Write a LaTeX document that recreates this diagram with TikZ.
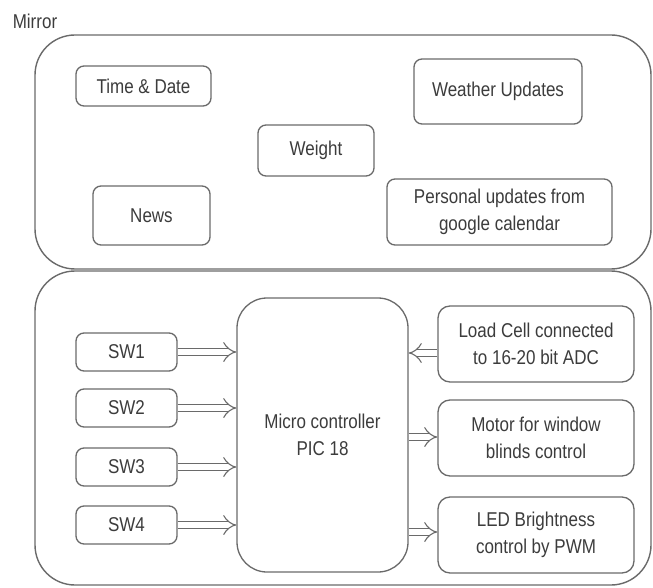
\documentclass[tikz,border=0pt]{standalone}
\usepackage{fontspec}
\setmainfont{Liberation Sans}[FakeStretch=0.85]
\usetikzlibrary{arrows.meta,calc}
\definecolor{ln}{HTML}{6A6A6A}
\definecolor{tx}{HTML}{3C3C3C}
\begin{document}
\begin{tikzpicture}[x=1pt,y=-1pt,
  every node/.style={font=\fontsize{20}{27}\selectfont, text=tx, align=center, inner sep=0pt},
  box/.style={draw=ln, line width=1.3pt, rounded corners=8pt, rectangle},
  cont/.style={draw=ln, line width=1.4pt, rounded corners=40pt, rectangle},
  dbl/.style={draw=ln, line width=1.1pt, double=white, double distance=6pt, -{Implies[length=6pt]}}
]
\useasboundingbox (0,0) rectangle (653,588);
\fill[white] (0,0) rectangle (653,588);
% containers
\node[cont, minimum width=616pt, minimum height=234pt] (top) at (343,152) {};
\node[cont, minimum width=616pt, minimum height=314pt] (bot) at (343,428) {};
\node (mirror) at (35,21) {Mirror};
% mirror contents
\node[box, minimum width=135pt, minimum height=40pt] (time) at (143.5,86) {Time \& Date};
\node[box, minimum width=168pt, minimum height=65pt] (weather) at (498,91.5) {Weather Updates};
\node[box, minimum width=116pt, minimum height=51pt] (weight) at (316,150.5) {Weight};
\node[box, minimum width=117pt, minimum height=59pt] (news) at (151.5,215.5) {News};
\node[box, minimum width=225pt, minimum height=66pt] (personal) at (499.5,212) {Personal updates from\\google calendar};
% controller part
\node[box, rounded corners=30pt, minimum width=171pt, minimum height=274pt] (mc) at (322.5,435) {Micro controller\\PIC 18};
\node[box, minimum width=101pt, minimum height=38pt] (sw1) at (126.5,352) {SW1};
\node[box, minimum width=101pt, minimum height=38pt] (sw2) at (126.5,408) {SW2};
\node[box, minimum width=101pt, minimum height=38pt] (sw3) at (126.5,467) {SW3};
\node[box, minimum width=101pt, minimum height=38pt] (sw4) at (126.5,525) {SW4};
\node[box, rounded corners=12pt, minimum width=196pt, minimum height=76pt] (load) at (536,344) {Load Cell connected\\to 16-20 bit ADC};
\node[box, rounded corners=12pt, minimum width=196pt, minimum height=76pt] (motor) at (536,438) {Motor for window\\blinds control};
\node[box, rounded corners=12pt, minimum width=196pt, minimum height=76pt] (led) at (536,535) {LED Brightness\\control by PWM};
% arrows
\foreach \s in {sw1,sw2,sw3,sw4}
  \draw[dbl] (\s.east) -- (\s.east -| mc.west);
\coordinate (la) at ($(load.west)+(0,9)$);
\draw[dbl] (la) -- (la -| mc.east);
\coordinate (ma) at ($(motor.west)+(0,-1)$);
\draw[dbl] (ma -| mc.east) -- (ma);
\coordinate (lea) at ($(led.west)+(0,-3)$);
\draw[dbl] (lea -| mc.east) -- (lea);
\end{tikzpicture}
\end{document}
